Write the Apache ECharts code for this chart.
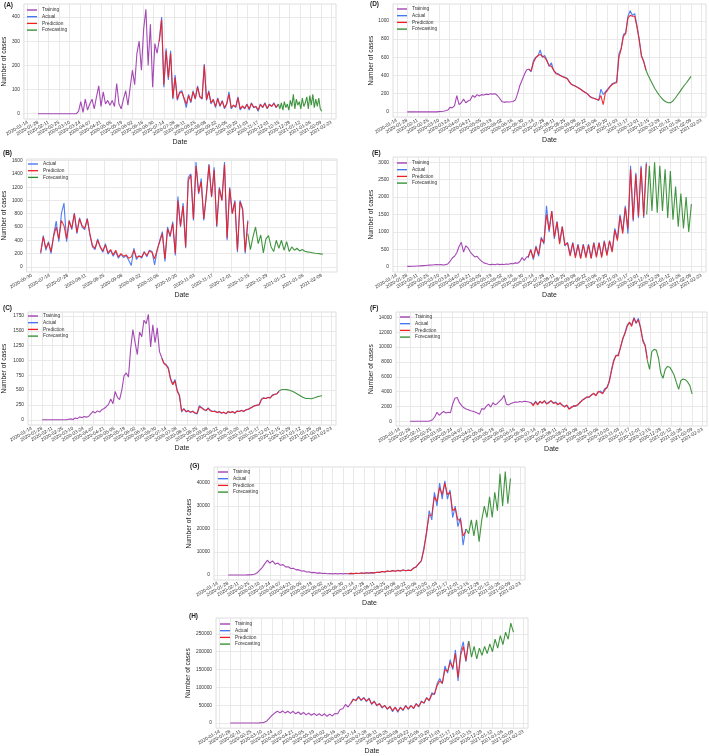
<!DOCTYPE html>
<html><head><meta charset="utf-8">
<script src="https://cdn.jsdelivr.net/npm/echarts@6/dist/echarts.min.js"></script>
<style>html,body{margin:0;padding:0;background:#fff}#c{width:709px;height:756px}</style>
</head><body><div id="c"></div>
<script>
// ---------------- DATA ----------------
const xTicksFull = ['2020-01-14','2020-01-28','2020-02-11','2020-02-25','2020-03-10','2020-03-24','2020-04-07','2020-04-21','2020-05-05','2020-05-19','2020-06-02','2020-06-16','2020-06-30','2020-07-14','2020-07-28','2020-08-11','2020-08-25','2020-09-08','2020-09-22','2020-10-06','2020-10-20','2020-11-03','2020-11-17','2020-12-01','2020-12-15','2020-12-29','2021-01-12','2021-01-26','2021-02-09','2021-02-23'];
const xTicksB = ['2020-06-30','2020-07-14','2020-07-28','2020-08-11','2020-08-25','2020-09-08','2020-09-22','2020-10-06','2020-10-20','2020-11-03','2020-11-17','2020-12-01','2020-12-15','2020-12-29','2021-01-12','2021-01-26','2021-02-09'];

const yTicksA = [0,100,200,300,400];
const yTicksB = [0,200,400,600,800,1000,1200,1400,1600];
const yTicksC = [0,250,500,750,1000,1250,1500,1750];
const yTicksD = [0,200,400,600,800,1000];
const yTicksE = [0,500,1000,1500,2000,2500,3000];
const yTicksF = [0,2000,4000,6000,8000,10000,12000,14000];
const yTicksG = [0,10000,20000,30000,40000];
const yTicksH = [0,50000,100000,150000,200000,250000];

// Panel A
const A_trainStart='2020-01-28', A_trainStep=3;
const A_train=[0,0,0,0,0,0,0,0,0,0,0,0,0,0,0,0,0,0,10,50,5,60,15,40,60,20,70,115,30,90,40,55,35,55,30,125,40,20,60,95,35,110,180,120,250,300,180,350,432,200,370,110,290,250,310];
const A_testStart='2020-07-08', A_testStep=3;
const A_actual=[310,400,110,270,140,260,60,160,55,90,95,60,25,80,45,95,60,115,70,60,205,55,95,40,60,25,65,30,55,20,40,90,20,35,25,70,15,30,20,40,15,45,25,30,10,40,25,45,20,40,30,45,25,40];
const A_pred=[300,390,120,260,150,250,65,150,60,85,90,65,40,75,50,90,62,110,72,62,200,58,90,45,58,30,62,33,52,25,42,80,25,35,28,65,20,32,22,38,20,42,27,30,15,38,27,42,22,38,30,42,27,38];
const A_fcStart='2020-12-14', A_fcStep=2;
const A_fc=[40,20,45,15,50,25,40,15,55,30,80,20,60,35,50,20,65,30,45,70,20,75,35,80,25,60,30,65,20,10];

// Panel B
const B_testStart='2020-07-07', B_testStep=2;
const B_actual=[200,470,250,380,200,480,690,380,800,960,380,700,560,810,500,740,600,560,730,480,300,260,420,300,220,350,190,250,160,230,130,190,140,170,100,20,280,110,170,130,230,150,250,230,30,250,400,530,80,600,450,680,170,1060,600,960,280,1350,1400,700,1580,1100,1330,700,1100,1550,1050,1500,600,1200,1000,1580,400,1200,800,1000,220,1000,880,200,700];
const B_pred=[220,450,280,360,230,460,600,420,700,620,420,690,580,800,520,720,620,580,720,500,320,280,400,300,240,330,210,260,180,250,150,200,160,180,130,150,250,140,160,150,220,170,240,220,120,260,380,500,120,570,470,650,200,1000,620,920,300,1300,1380,720,1520,1120,1280,720,1080,1530,1060,1460,620,1180,1000,1540,430,1180,800,980,250,980,860,230,680];
const B_fcStart='2020-12-14', B_fcStep=2;
const B_fc=[500,260,450,600,350,480,210,420,470,300,230,400,280,400,250,380,230,300,250,280,240,260,235,225,220,212,205,200,195,190];

// Panel C
const C_trainStart='2020-01-28', C_trainStep=3;
const C_train=[0,0,0,0,0,0,0,0,0,0,0,0,10,15,5,30,20,50,35,55,45,55,100,140,115,150,130,170,190,220,260,350,270,480,380,340,500,740,790,720,1200,1520,1300,1100,1480,1400,1680,1620,1780,1230,1600,1300,1550,1150,1050];
const C_testStart='2020-07-08', C_testStep=3;
const C_actual=[1050,960,930,880,700,600,680,500,420,130,190,130,160,120,150,110,100,240,210,180,150,200,160,140,150,120,140,110,130,100,140,120,140,110,150,140,160,140,170,180,200,220,240,250,250,350,370,360,380,370,420,430,440,490];
const C_pred=[1040,950,920,860,680,590,660,480,400,150,180,140,150,130,140,120,110,220,200,170,160,190,150,140,140,125,135,115,125,105,135,125,135,115,145,140,155,145,165,175,195,215,235,245,255,340,365,360,375,370,410,425,440,480];
const C_fcStart='2020-12-14', C_fcStep=2;
const C_fc=[490,500,510,520,510,520,505,500,490,480,470,455,440,430,410,400,380,370,360,350,360,370,355,365,370,380,390,395,400,410];

// Panel D
const D_trainStart='2020-01-28', D_trainStep=3;
const D_train=[0,0,0,0,0,0,0,0,0,0,0,0,0,0,3,5,8,12,20,50,45,70,180,80,100,140,100,120,130,180,160,190,175,190,185,195,190,200,195,200,180,150,115,105,110,108,112,115,130,200,290,350,410,460,470];
const D_testStart='2020-07-08', D_testStep=3;
const D_actual=[470,440,560,600,610,680,600,620,570,500,540,450,430,420,400,390,380,370,330,300,290,280,265,250,230,215,200,170,155,150,140,125,250,190,220,250,280,310,320,330,640,700,850,870,1050,1110,1060,1080,950,800,620,560,460];
const D_pred=[470,450,540,590,620,630,610,600,560,510,500,460,420,410,400,385,375,365,330,300,290,278,262,248,230,212,198,172,155,148,138,130,180,80,210,240,275,300,315,320,600,690,830,860,1030,1060,1050,1050,930,790,610,550,460];
const D_fcStart='2020-12-11', D_fcStep=3;
const D_fc=[460,400,350,300,255,215,180,150,125,108,100,102,120,150,185,220,255,290,320,355,390];

// Panel E
const E_trainStart='2020-01-28', E_trainStep=3;
const E_train=[10,10,15,15,20,20,25,30,35,40,45,50,55,60,55,60,50,60,80,150,250,300,400,580,700,420,600,540,420,350,280,300,220,160,110,90,70,60,70,55,80,60,70,65,80,70,90,85,110,100,150,260,180,280,300];
const E_testStart='2020-07-07', E_testStep=3.5;
const E_actual=[250,500,200,600,300,850,650,1750,1000,1600,800,1300,700,1150,600,700,350,700,300,650,250,650,300,650,250,700,300,700,300,750,350,750,450,1100,800,1500,1000,1750,950,2900,1300,2700,1400,2900,1400,3000];
const E_pred=[280,480,250,560,350,800,700,1500,1050,1600,850,1280,650,1150,620,680,300,680,250,620,230,630,250,620,230,680,270,680,260,720,320,740,420,1050,750,1450,950,1700,1100,2800,1350,2650,1450,2850,1450,2950];
const E_fcStart='2020-12-12', E_fcStep=3.5;
const E_fc=[1500,2900,1600,3000,1550,2900,1600,2800,1400,2750,1350,2300,1150,2100,1100,2000,1000,1800];

// Panel F
const F_trainStart='2020-01-28', F_trainStep=3;
const F_train=[0,0,0,0,0,0,0,0,0,50,200,600,1200,800,1100,1300,1100,1200,1150,2300,3100,3200,2500,2100,1800,1650,1550,1400,1350,1250,1100,950,1700,1600,2000,2300,1900,2500,2200,2400,2700,3000,3500,2300,2200,2400,2500,2600,2550,2650,2600,2700,2650,2600,2500];
const F_testStart='2020-07-08', F_testStep=3;
const F_actual=[2500,2200,2700,2300,2600,2500,2700,2400,2600,2700,2500,2600,2300,2400,2200,2000,2100,1700,1800,2100,2000,2300,2500,2900,3000,3300,3200,3600,3700,3500,3900,4100,3800,4400,4500,5500,7000,8300,8800,9000,10000,11000,12000,13000,13300,13000,14000,13200,13900,12500,11000,10300,8500];
const F_pred=[2500,2100,2600,2200,2700,2400,2800,2300,2500,2800,2400,2500,2200,2500,2100,1900,2200,1600,1900,2000,2100,2200,2600,2800,3100,3200,3300,3500,3800,3400,4000,3900,3700,4200,4600,5300,6800,8100,8900,8800,9900,11200,11800,12800,13400,12800,13900,13300,13700,12600,10800,10200,8200];
const F_fcStart='2020-12-11', F_fcStep=3;
const F_fc=[8200,7000,9400,9700,9600,8500,6500,5800,7000,7400,7300,6800,6200,5200,4300,5500,5700,5600,5300,4800,3700];

// Panel G
const G_trainStart='2020-01-28', G_trainStep=3.5;
const G_train=[0,0,0,0,0,0,0,20,50,150,300,800,2000,3200,4800,6400,5200,6100,4700,5200,4200,4500,3500,3600,2800,2900,2200,2300,1700,1800,1300,1400,1000,1100,800,900,600,750,500,650,450,600,450,600,450,650,500];
const G_testStart='2020-07-07', G_testStep=3.5;
const G_actual=[500,700,550,750,600,850,700,950,800,1000,900,1200,1100,1500,1300,1700,1500,1900,1600,2000,1700,2200,1800,2100,1900,3000,3400,5000,6000,12000,18000,28000,24000,36000,30000,40000,33000,41000,33000,37000,25000,30000,21000,25000,13000,20000];
const G_pred=[500,680,560,730,620,830,720,930,820,980,920,1180,1120,1480,1330,1680,1520,1880,1620,1980,1720,2180,1820,2080,1920,2900,3600,4800,6300,11000,19000,26000,26000,34000,32000,38000,35000,40000,35000,36000,28000,29000,24000,24000,17000,19000];
const G_fcStart='2020-12-12', G_fcStep=3.5;
const G_fc=[20000,18000,24000,17000,24000,14500,24000,30000,25000,34000,25000,36000,28000,44000,30000,45000,31000,42000];

// Panel H
const H_trainStart='2020-01-28', H_trainStep=3.5;
const H_train=[0,0,0,0,0,0,0,0,0,100,200,400,800,2000,6000,14000,22000,28000,33000,29000,34000,28000,33000,27000,33000,26000,31000,24000,30000,23000,28000,22000,27000,21000,26000,20000,26000,19000,25000,20000,27000,26000,38000,40000,52000,45000,55000];
const H_testStart='2020-07-07', H_testStep=3.5;
const H_actual=[55000,68000,62000,75000,63000,72000,60000,70000,52000,62000,48000,55000,42000,50000,38000,47000,32000,45000,30000,45000,35000,50000,38000,50000,40000,55000,45000,62000,55000,72000,62000,85000,80000,110000,125000,110000,160000,140000,178000,150000,205000,118000,200000,228000,172000,230000];
const H_pred=[55000,66000,64000,72000,65000,70000,62000,68000,54000,60000,50000,54000,44000,49000,40000,46000,35000,44000,33000,43000,37000,48000,40000,48000,42000,53000,47000,60000,57000,70000,64000,80000,82000,105000,118000,112000,150000,145000,170000,155000,195000,128000,190000,215000,175000,225000];
const H_fcStart='2020-12-12', H_fcStep=3.5;
const H_fc=[230000,185000,215000,180000,210000,190000,215000,195000,222000,200000,235000,210000,245000,220000,255000,235000,280000,255000];

// ---------------- LAYOUT / STYLE ----------------
const DAY0 = Date.UTC(2020,0,14);
function dayOf(s){const p=s.split('-').map(Number);return (Date.UTC(p[0],p[1]-1,p[2])-DAY0)/86400000;}
function pts(start, step, vals){const d0=dayOf(start);return vals.map((v,i)=>[d0+i*step, v]);}

const COLORS = {Training:'#9b35ad', Actual:'#3e6ff2', Prediction:'#f01e1e', Forecasting:'#2b8a2b'};
const FONT = 'Liberation Sans, Arial, sans-serif';

const panels = [
 {lab:'(A)', labPos:[4,2], grid:{left:23,top:4,width:313,height:115}, xr:[-5,412], xt:xTicksFull, yr:[-22,454], yt:yTicksA, yGap:14, leg:[27,7],
  s:{Training:pts(A_trainStart,A_trainStep,A_train), Actual:pts(A_testStart,A_testStep,A_actual), Prediction:pts(A_testStart,A_testStep,A_pred), Forecasting:pts(A_fcStart,A_fcStep,A_fc)}},
 {lab:'(D)', labPos:[370,1], grid:{left:393,top:4,width:313,height:113}, xr:[-5,412], xt:xTicksFull, yr:[-56,1185], yt:yTicksD, yGap:17, leg:[397,6],
  s:{Training:pts(D_trainStart,D_trainStep,D_train), Actual:pts(D_testStart,D_testStep,D_actual), Prediction:pts(D_testStart,D_testStep,D_pred), Forecasting:pts(D_fcStart,D_fcStep,D_fc)}},
 {lab:'(B)', labPos:[3,150], grid:{left:25,top:159,width:312,height:113}, xr:[164.1,403.9], xt:xTicksB, yr:[-78,1625], yt:yTicksB, yGap:18, leg:[28,161],
  s:{Actual:pts(B_testStart,B_testStep,B_actual), Prediction:pts(B_testStart,B_testStep,B_pred), Forecasting:pts(B_fcStart,B_fcStep,B_fc)}},
 {lab:'(E)', labPos:[372,150], grid:{left:393,top:157,width:313,height:115}, xr:[-5,412], xt:xTicksFull, yr:[-152,3150], yt:yTicksE, yGap:17, leg:[397,160],
  s:{Training:pts(E_trainStart,E_trainStep,E_train), Actual:pts(E_testStart,E_testStep,E_actual), Prediction:pts(E_testStart,E_testStep,E_pred), Forecasting:pts(E_fcStart,E_fcStep,E_fc)}},
 {lab:'(C)', labPos:[3,305], grid:{left:27,top:312,width:309,height:113}, xr:[-5,412], xt:xTicksFull, yr:[-88,1818], yt:yTicksC, yGap:20, leg:[28,313],
  s:{Training:pts(C_trainStart,C_trainStep,C_train), Actual:pts(C_testStart,C_testStep,C_actual), Prediction:pts(C_testStart,C_testStep,C_pred), Forecasting:pts(C_fcStart,C_fcStep,C_fc)}},
 {lab:'(F)', labPos:[370,305], grid:{left:396,top:312,width:311,height:114}, xr:[-5,412], xt:xTicksFull, yr:[-650,14750], yt:yTicksF, yGap:20, leg:[400,314],
  s:{Training:pts(F_trainStart,F_trainStep,F_train), Actual:pts(F_testStart,F_testStep,F_actual), Prediction:pts(F_testStart,F_testStep,F_pred), Forecasting:pts(F_fcStart,F_fcStep,F_fc)}},
 {lab:'(G)', labPos:[190,463], grid:{left:214,top:467,width:311,height:113}, xr:[-5,412], xt:xTicksFull, yr:[-2200,47000], yt:yTicksG, yGap:19, leg:[218,469],
  s:{Training:pts(G_trainStart,G_trainStep,G_train), Actual:pts(G_testStart,G_testStep,G_actual), Prediction:pts(G_testStart,G_testStep,G_pred), Forecasting:pts(G_fcStart,G_fcStep,G_fc)}},
 {lab:'(H)', labPos:[189,613], grid:{left:216,top:618,width:312,height:114}, xr:[-5,412], xt:xTicksFull, yr:[-14300,294500], yt:yTicksH, yGap:21, leg:[220,621],
  s:{Training:pts(H_trainStart,H_trainStep,H_train), Actual:pts(H_testStart,H_testStep,H_actual), Prediction:pts(H_testStart,H_testStep,H_pred), Forecasting:pts(H_fcStart,H_fcStep,H_fc)}}
];

const option = {animation:false, backgroundColor:'#ffffff', textStyle:{fontFamily:FONT},
  grid:[], xAxis:[], yAxis:[], series:[], legend:[], graphic:[]};

const gridLine = {show:true, lineStyle:{color:'#e3e3e3', width:0.8}};
panels.forEach((p,i)=>{
  option.grid.push(Object.assign({show:true, borderColor:'#d6d6d6', borderWidth:0.8, backgroundColor:'transparent'}, p.grid));
  const xDays = p.xt.map(dayOf);
  const labMap = {}; p.xt.forEach((t,k)=>{labMap[xDays[k]]=t;});
  option.xAxis.push({gridIndex:i, type:'value', min:p.xr[0], max:p.xr[1],
    axisLine:{show:false}, axisTick:{show:false, customValues:xDays},
    axisLabel:{customValues:xDays, rotate:30, fontSize:4.8, margin:3, color:'#333', fontFamily:FONT,
      formatter:(v)=>labMap[Math.round(v)]||''},
    splitLine:gridLine,
    name:'Date', nameLocation:'middle', nameGap:18, nameTextStyle:{fontSize:7, color:'#222', fontFamily:FONT}});
  option.yAxis.push({gridIndex:i, type:'value', min:p.yr[0], max:p.yr[1],
    axisLine:{show:false}, axisTick:{show:false, customValues:p.yt},
    axisLabel:{customValues:p.yt, fontSize:4.8, margin:4, color:'#333', fontFamily:FONT,
      formatter:(v)=>String(Math.round(v))},
    splitLine:gridLine,
    name:'Number of cases', nameLocation:'middle', nameRotate:90, nameGap:p.yGap,
    nameTextStyle:{fontSize:6.6, color:'#222', fontFamily:FONT}});
  const names = Object.keys(p.s);
  names.forEach(n=>{
    option.series.push({type:'line', name:n, xAxisIndex:i, yAxisIndex:i, data:p.s[n],
      showSymbol:false, symbol:'none', silent:true,
      lineStyle:{width:1.1, color:COLORS[n], opacity:0.9}, itemStyle:{color:COLORS[n]}});
  });
  option.legend.push({data:names, orient:'vertical', left:p.leg[0], top:p.leg[1], padding:0,
    icon:'rect', itemWidth:10, itemHeight:1.3, itemGap:0.7, selectedMode:false,
    textStyle:{fontSize:4.8, color:'#333', lineHeight:6, fontFamily:FONT}});
  option.graphic.push({type:'text', left:p.labPos[0], top:p.labPos[1],
    style:{text:p.lab, font:'bold 6.5px '+FONT, fill:'#222'}});
});

const chart = echarts.init(document.getElementById('c'), null, {renderer:'canvas'});
chart.setOption(option);
</script>
</body></html>
